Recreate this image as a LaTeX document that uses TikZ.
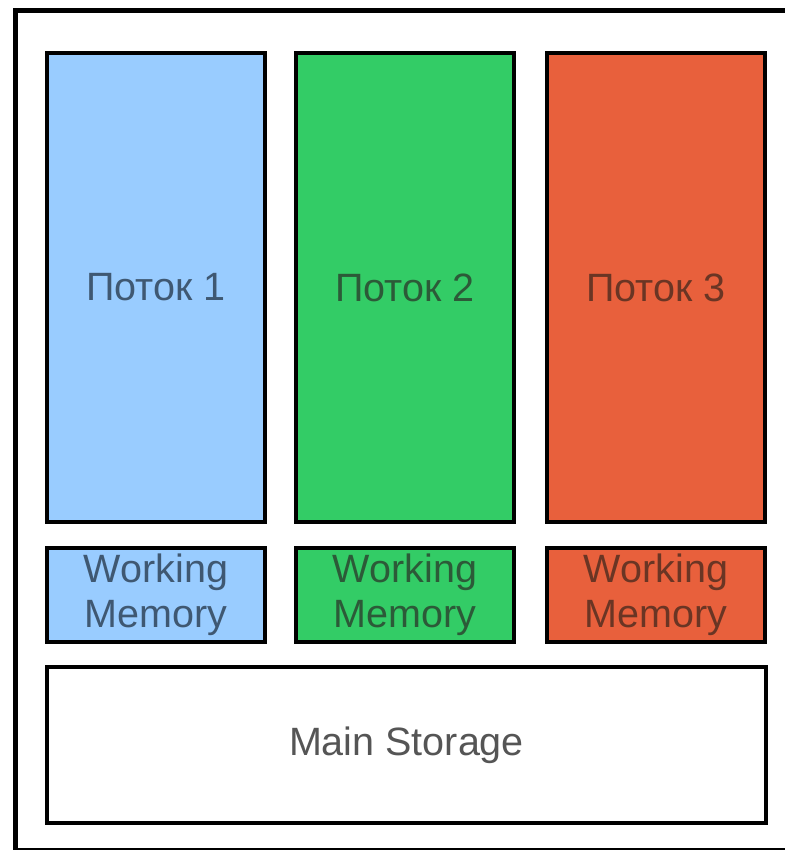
\documentclass[tikz,border=0pt]{standalone}
\usepackage{fontspec}
\setmainfont{Liberation Sans}
\definecolor{cblue}{HTML}{99CCFF}
\definecolor{cgreen}{HTML}{33CC66}
\definecolor{corange}{HTML}{E8603C}
\definecolor{tblue}{HTML}{3F5872}
\definecolor{tgreen}{HTML}{2C5A38}
\definecolor{torange}{HTML}{6A3524}
\definecolor{tgrey}{HTML}{555555}
\tikzset{
  box/.style={draw=black, line width=4pt, rectangle, inner sep=0pt, align=center,
    font=\fontsize{39.5}{45}\selectfont},
  thread/.style={box, minimum width=218pt, minimum height=469pt},
  wm/.style={box, minimum width=218pt, minimum height=94pt},
}
\begin{document}
\begin{tikzpicture}[x=1pt,y=1pt]
\useasboundingbox (0,0) rectangle (784,-850);
\fill[white] (0,0) rectangle (784,-850);
\draw[line width=5pt] (15.5,-11) rectangle (800,-850);
\node[thread, fill=cblue, text=tblue] (t1) at (156,-287.5) {Поток 1};
\node[thread, fill=cgreen, text=tgreen] (t2) at (405,-287.5) {Поток 2};
\node[thread, fill=corange, text=torange] (t3) at (656,-287.5) {Поток 3};
\node[wm, fill=cblue, text=tblue] (w1) at (156,-595) {Working\\Memory};
\node[wm, fill=cgreen, text=tgreen] (w2) at (405,-595) {Working\\Memory};
\node[wm, fill=corange, text=torange] (w3) at (656,-595) {Working\\Memory};
\node[box, fill=white, text=tgrey, minimum width=719pt, minimum height=156pt] (ms) at (406.5,-745) {Main Storage};
\end{tikzpicture}
\end{document}
